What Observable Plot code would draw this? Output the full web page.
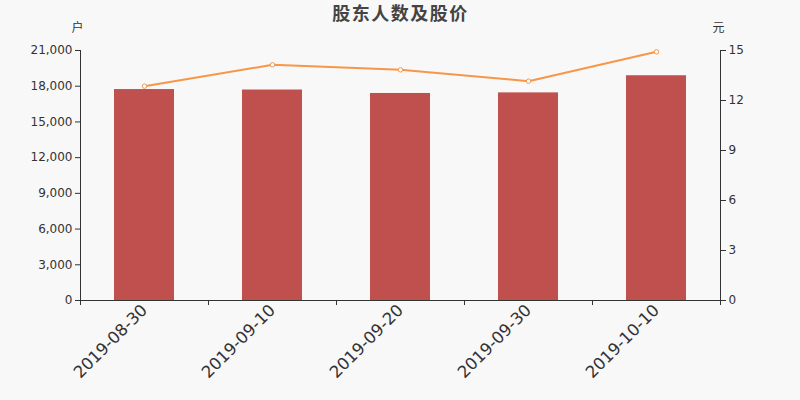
<!DOCTYPE html>
<html><head><meta charset="utf-8">
<script src="https://cdn.jsdelivr.net/npm/d3@7"></script>
<script src="https://cdn.jsdelivr.net/npm/@observablehq/plot@0.6"></script>
<style>
html,body{margin:0;padding:0;background:#f8f8f8;}
#chart svg{display:block;}
</style>
</head><body><div id="chart"></div>
<script>
const dates = ["2019-08-30","2019-09-10","2019-09-20","2019-09-30","2019-10-10"];
const holders = [17720, 17680, 17390, 17440, 18880];
const prices = [12.86, 14.14, 13.84, 13.16, 14.92];
const leftTicks = [0,3000,6000,9000,12000,15000,18000,21000];
const rightTicks = [0,3,6,9,12,15];
const yMax = 21000, pMax = 15, k = yMax / pMax;

const data = dates.map((d,i)=>({date:d, holders:holders[i], price:prices[i], py:prices[i]*k}));
const font = "DejaVu Sans, sans-serif";
const ink = "#333";
const cjk = "Noto Sans CJK SC, sans-serif";

const plot = Plot.plot({
  width: 800, height: 400,
  marginLeft: 80, marginRight: 80, marginTop: 50, marginBottom: 100,
  style: {background: "#f8f8f8", fontFamily: font, fontSize: "12px", color: ink},
  x: {domain: dates, paddingInner: 0.53, paddingOuter: 0.265, align: 0.5},
  y: {domain: [0, yMax]},
  marks: [
    Plot.barY(data, {x: "date", y: "holders", fill: "#c0504d"}),
    Plot.axisY({anchor: "left", ticks: leftTicks, tickFormat: d3.format(","), tickSize: 5, tickPadding: 3, label: null, fontSize: 12, fill: ink}),
    Plot.axisY({anchor: "right", ticks: rightTicks.map(v=>v*k), tickFormat: d=>String(Math.round(d/k)), tickSize: 5, tickPadding: 3, label: null, fontSize: 12, fill: ink}),
    Plot.ruleX(data.slice(0,1), {x: "date", dx: -64, y1: 0, y2: yMax, stroke: ink}),
    Plot.ruleX(data.slice(-1), {x: "date", dx: 64, y1: 0, y2: yMax, stroke: ink}),
    Plot.ruleY([0], {stroke: ink}),
    Plot.ruleX(data, {x: "date", dx: -64, y1: 0, y2: -420, stroke: ink}),
    Plot.ruleX(data.slice(-1), {x: "date", dx: 64, y1: 0, y2: -420, stroke: ink}),
    Plot.axisX({anchor: "bottom", tickSize: 0, tickPadding: 7, tickRotate: -45, fontSize: 16.5, label: null, fill: ink}),
    Plot.line(data, {x: "date", y: "py", stroke: "#f79646", strokeWidth: 2}),
    Plot.dot(data, {x: "date", y: "py", r: 2.2, stroke: "#f79646", fill: "#ffffff", strokeWidth: 1}),
    Plot.text(["股东人数及股价"], {frameAnchor: "top", lineAnchor: "middle", dy: -36, fontSize: 18, fontWeight: "bold", fill: "#444", fontFamily: cjk}),
    Plot.text(["户"], {frameAnchor: "top-left", lineAnchor: "middle", dx: -3, dy: -22, textAnchor: "middle", fontSize: 12, fill: ink, fontFamily: cjk}),
    Plot.text(["元"], {frameAnchor: "top-right", lineAnchor: "middle", dx: -2, dy: -22, textAnchor: "middle", fontSize: 12, fill: ink, fontFamily: cjk})
  ]
});
d3.select(plot).selectAll("text").filter(function(){return this.textContent === "股东人数及股价";}).attr("letter-spacing", "1.5px");
document.getElementById("chart").appendChild(plot);
</script></body></html>
